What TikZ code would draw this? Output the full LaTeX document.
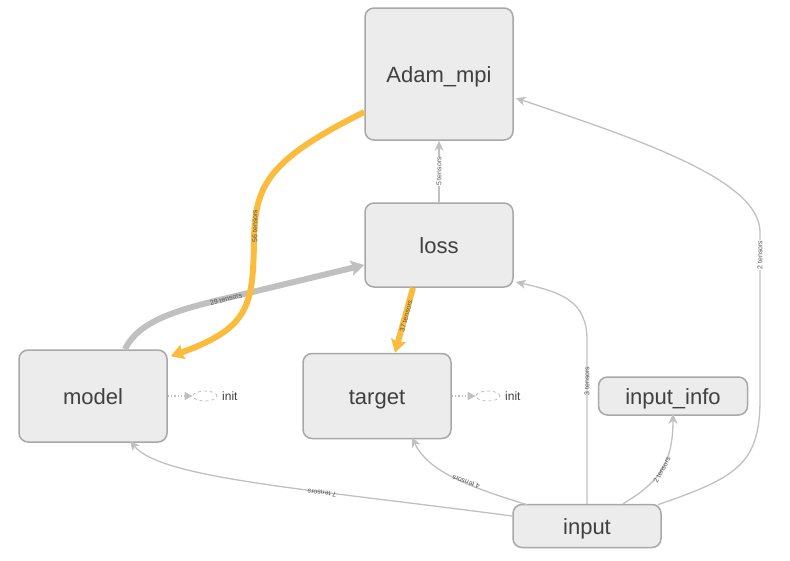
\documentclass[tikz,border=0pt]{standalone}
\usepackage{fontspec}
\setmainfont{Liberation Sans}
\usetikzlibrary{arrows.meta,calc,shapes.geometric}
\definecolor{nodefill}{HTML}{ECECEC}
\definecolor{nodeborder}{HTML}{A8A8A8}
\definecolor{edgegray}{HTML}{C0C0C0}
\definecolor{edgeorange}{HTML}{FBBC3D}
\definecolor{txt}{HTML}{404040}
\definecolor{lbl}{HTML}{555555}
\tikzset{
  opnode/.style={draw=nodeborder, fill=nodefill, line width=1.5pt, rounded corners=9pt,
    font=\fontsize{22}{24}\selectfont, text=txt, inner sep=0pt, text height=21pt, text depth=5pt},
  thinedge/.style={draw=edgegray, line width=1.3pt, -{Stealth[length=10pt,width=9pt,inset=3pt]}},
  thickgray/.style={draw=edgegray, line width=6pt, -{Stealth[length=13pt,width=15pt,inset=2pt]}},
  thickorange/.style={draw=edgeorange, line width=6pt, -{Stealth[length=13pt,width=15pt,inset=2pt]}},
  elbl/.style={font=\fontsize{7}{8}\selectfont, text=lbl, inner sep=0.5pt},
  initell/.style={ellipse, draw=edgegray, dashed, line width=0.8pt, minimum width=24pt, minimum height=10pt, inner sep=0pt},
  initedge/.style={draw=edgegray, line width=1.3pt, dotted, -{Triangle[length=8pt,width=8pt]}},
  inittxt/.style={font=\fontsize{12}{14}\selectfont, text=txt, anchor=west, inner sep=0pt},
}
\begin{document}
\begin{tikzpicture}[x=1pt,y=-1pt]
\useasboundingbox (0,0) rectangle (790,560);

\node[opnode, minimum width=148pt, minimum height=132pt] (adam) at (439,74) {Adam\_mpi};
\node[opnode, minimum width=148pt, minimum height=84pt] (loss) at (439,245) {loss};
\node[opnode, minimum width=148pt, minimum height=92pt] (model) at (93,396) {model};
\node[opnode, minimum width=148pt, minimum height=85pt] (target) at (377,396) {target};
\node[opnode, minimum width=149pt, minimum height=38pt] (info) at (673,396) {input\_info};
\node[opnode, minimum width=148pt, minimum height=43pt] (input) at (587,526) {input};

% init
\node[initell] (minit) at (205,396) {};
\node[inittxt] (mtext) at (222,396) {init};
\draw[initedge] (model.east) -- (minit.west);
\node[initell] (tinit) at (488,396) {};
\node[inittxt] (ttext) at (505,396) {init};
\draw[initedge] (target.east) -- (tinit.west);

% loss -> adam
\draw[thinedge] (loss.north) -- (adam.south)
  node[elbl, pos=0.5, rotate=90, fill=white] {5 tensors};

% model -> loss (thick gray)
\draw[thickgray] ([xshift=32pt]model.north) .. controls (140,318) and (185,308) .. (240,295)
  -- ([yshift=-20pt]loss.west);
\node[elbl, rotate=15] (l29) at (226,299) {29 tensors};

% adam -> model (orange)
\draw[thickorange] ([yshift=-38pt]adam.west) .. controls (268,160) and (255,185) .. (254,240)
  .. controls (253,305) and (250,328) .. ([xshift=3pt,yshift=-7pt]model.north east);
\node[elbl, rotate=90] (l56) at (255,226) {56 tensors};

% loss -> target (orange)
\draw[thickorange] ([xshift=-26pt]loss.south) -- ([xshift=18pt]target.north);
\node[elbl, rotate=75] (l37) at (406,316) {37 tensors};

% input -> model
\draw[thinedge] ([yshift=10pt]input.west) .. controls (300,488) and (160,478) .. ([xshift=37pt,yshift=2pt]model.south);
\node[elbl, rotate=173] (l7) at (322,493) {7 tensors};

% input -> target
\draw[thinedge] ([xshift=-60pt,yshift=-1pt]input.north) .. controls (470,487) and (428,472) .. ([xshift=35pt,yshift=2pt]target.south);
\node[elbl, rotate=160] (l4) at (466,482) {4 tensors};

% input -> loss
\draw[thinedge] (input.north) -- (587,340) .. controls (587,300) and (560,292) .. ([xshift=2pt,yshift=-37pt]loss.east);
\node[elbl, rotate=90] (l3) at (587,381) {3 tensors};

% input -> input_info
\draw[thinedge] ([xshift=36pt]input.north) .. controls (660,482) and (673,462) .. ([yshift=2pt]info.south);
\node[elbl, rotate=62] (l2a) at (662,470) {2 tensors};

% input -> adam
\draw[thinedge] ([xshift=-4pt,yshift=-1pt]input.north east) .. controls (735,478) and (760,465) .. (760,400)
  -- (760,232) .. controls (760,180) and (640,140) .. ([xshift=2pt,yshift=-24pt]adam.east);
\node[elbl, rotate=90, fill=white] (l2b) at (760,255) {2 tensors};

\end{tikzpicture}
\end{document}
